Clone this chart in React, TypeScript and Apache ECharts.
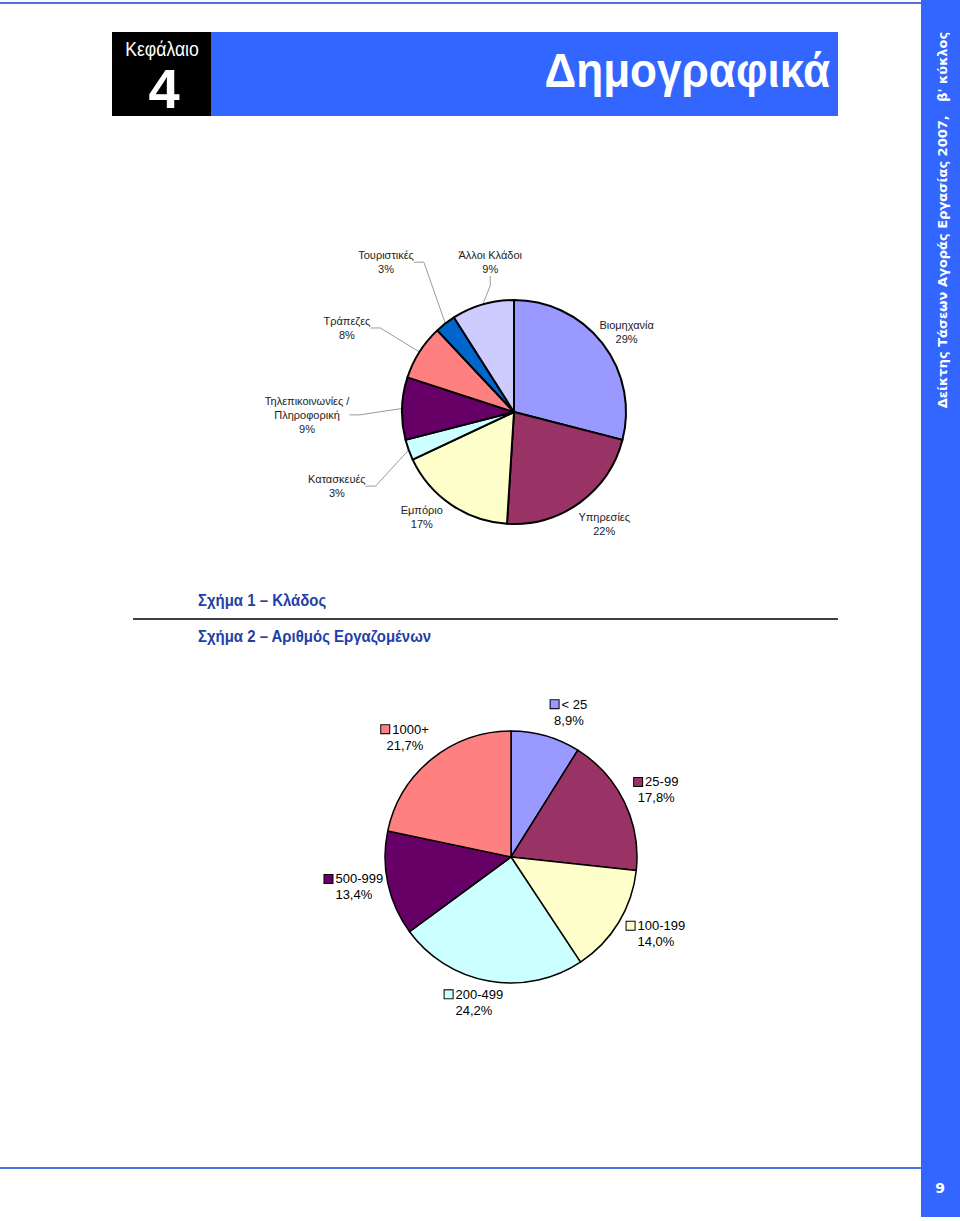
import React, { useEffect, useRef } from 'react';
import * as echarts from 'echarts';

// Σχήμα 1 – Κλάδος
const sectorNames = ['Βιομηχανία', 'Υπηρεσίες', 'Εμπόριο', 'Κατασκευές', 'Τηλεπικοινωνίες /\nΠληροφορική', 'Τράπεζες', 'Τουριστικές', 'Άλλοι Κλάδοι'];
const sectorValues = [29, 22, 17, 3, 9, 8, 3, 9];
const sectorColors = ['#9999ff', '#993366', '#ffffcc', '#ccffff', '#660066', '#ff8080', '#0066cc', '#ccccff'];
const sectorLeader = [false, false, false, true, true, true, true, true];

// Σχήμα 2 – Αριθμός Εργαζομένων
const sizeNames = ['< 25', '25-99', '100-199', '200-499', '500-999', '1000+'];
const sizeValues = [8.9, 17.8, 14.0, 24.2, 13.4, 21.7];
const sizeColors = ['#9999ff', '#993366', '#ffffcc', '#ccffff', '#660066', '#ff8080'];

// label placement (angle from 12 o'clock clockwise in degrees, distance from centre in px)
const sectorLabelPolar = [[54.7, 138], [141.2, 144], [221.2, 140], [247.3, 192], [269.2, 207], [296.7, 187], [319.5, 197], [351, 152]];
const sizeLabelPolar = [[21.8, 156], [65.2, 160], [117.9, 164], [194.3, 150], [259.2, 160], [318.5, 160]];

const PIE1 = { cx: 514, cy: 412, r: 112 };
const PIE2 = { cx: 511, cy: 857, r: 126 };

function polar(p: { cx: number; cy: number }, a: number, d: number) {
  const rad = (a * Math.PI) / 180;
  return { x: p.cx + d * Math.sin(rad), y: p.cy - d * Math.cos(rad) };
}

export default function App() {
  const ref = useRef<HTMLDivElement>(null);
  useEffect(() => {
    if (!ref.current) return;
    const chart = echarts.init(ref.current, null, { renderer: 'svg' });
    const sqRich: Record<string, any> = {};
    sizeColors.forEach((c, i) => {
      sqRich['sq' + i] = { width: 8, height: 8, backgroundColor: c, borderColor: '#000', borderWidth: 1 };
    });
    sqRich.t = { fontSize: 13, fontFamily: 'Liberation Sans, Arial', color: '#000', lineHeight: 16, padding: [0, 0, 0, 3] };
    sqRich.p = { fontSize: 13, fontFamily: 'Liberation Sans, Arial', color: '#000', lineHeight: 16 };

    const subFont = 'bold 17px "Liberation Sans", Arial';
    const option: any = {
      animation: false,
      backgroundColor: '#ffffff',
      graphic: [
        { type: 'rect', shape: { x: 0, y: 2, width: 921, height: 2 }, style: { fill: '#4a72e0' } },
        { type: 'rect', shape: { x: 0, y: 1167, width: 921, height: 2 }, style: { fill: '#4a72e0' } },
        { type: 'rect', shape: { x: 921, y: 0, width: 39, height: 1217 }, style: { fill: '#3366ff' } },
        { type: 'rect', shape: { x: 112, y: 32, width: 99, height: 84 }, style: { fill: '#000000' } },
        { type: 'rect', shape: { x: 211, y: 32, width: 627, height: 84 }, style: { fill: '#3366ff' } },
        {
          type: 'text', x: 162, y: 49, scaleX: 0.88,
          style: { text: 'Κεφάλαιο', fill: '#fff', font: '20px "Liberation Sans", Arial', align: 'center', verticalAlign: 'middle' },
        },
        {
          type: 'text', x: 164, y: 88,
          style: { text: '4', fill: '#fff', font: 'bold 56px "Liberation Sans", Arial', align: 'center', verticalAlign: 'middle' },
        },
        {
          type: 'text', x: 830, y: 70, scaleX: 0.9,
          style: { text: 'Δημογραφικά', fill: '#fff', font: 'bold 49px "Liberation Sans", Arial', align: 'right', verticalAlign: 'middle' },
        },
        {
          type: 'text', x: 942, y: 220, rotation: Math.PI / 2,
          style: { text: "Δείκτης Τάσεων Αγοράς Εργασίας 2007,   β' κύκλος", fill: '#fff', font: 'bold 13px "DejaVu Sans", Verdana', align: 'center', verticalAlign: 'middle' },
        },
        {
          type: 'text', x: 940, y: 1188,
          style: { text: '9', fill: '#fff', font: 'bold 14px "DejaVu Sans", Verdana', align: 'center', verticalAlign: 'middle' },
        },
        {
          type: 'text', x: 198, y: 600, scaleX: 0.88,
          style: { text: 'Σχήμα 1 – Κλάδος', fill: '#1f3fa8', font: subFont, align: 'left', verticalAlign: 'middle' },
        },
        { type: 'line', shape: { x1: 133, y1: 619, x2: 838, y2: 619 }, style: { stroke: '#000', lineWidth: 1.5 } },
        {
          type: 'text', x: 198, y: 636, scaleX: 0.88,
          style: { text: 'Σχήμα 2 – Αριθμός Εργαζομένων', fill: '#1f3fa8', font: subFont, align: 'left', verticalAlign: 'middle' },
        },
      ],
      series: [
        {
          type: 'pie',
          center: [PIE1.cx, PIE1.cy],
          radius: PIE1.r,
          startAngle: 90,
          clockwise: true,
          avoidLabelOverlap: false,
          itemStyle: { borderColor: '#000', borderWidth: 2 },
          emphasis: { disabled: true },
          label: {
            show: true,
            position: 'outside',
            formatter: (p: any) => `${p.name}\n${p.value}%`,
            fontSize: 11,
            fontFamily: 'Liberation Sans, Arial',
            color: '#222',
            lineHeight: 14,
          },
          labelLine: { show: false, lineStyle: { color: '#9a9a9a', width: 1 } },
          labelLayout: (params: any) => {
            const [a, d] = sectorLabelPolar[params.dataIndex];
            const pt = polar(PIE1, a, d);
            return { x: pt.x, y: pt.y, align: 'center', verticalAlign: 'middle' };
          },
          data: sectorNames.map((n, i) => ({
            name: n,
            value: sectorValues[i],
            itemStyle: { color: sectorColors[i] },
            labelLine: { show: sectorLeader[i], length: 10, length2: 10 },
          })),
        },
        {
          type: 'pie',
          center: [PIE2.cx, PIE2.cy],
          radius: PIE2.r,
          startAngle: 90,
          clockwise: true,
          avoidLabelOverlap: false,
          itemStyle: { borderColor: '#000', borderWidth: 1.5 },
          emphasis: { disabled: true },
          label: {
            show: true,
            position: 'outside',
            formatter: (p: any) => `{sq${p.dataIndex}|}{t|${p.name}}\n{p|${p.value.toFixed(1).replace('.', ',')}%}`,
            rich: sqRich,
          },
          labelLine: { show: false },
          labelLayout: (params: any) => {
            const [a, d] = sizeLabelPolar[params.dataIndex];
            const pt = polar(PIE2, a, d);
            return { x: pt.x, y: pt.y, align: 'center', verticalAlign: 'middle' };
          },
          data: sizeNames.map((n, i) => ({ name: n, value: sizeValues[i], itemStyle: { color: sizeColors[i] } })),
        },
      ],
    };
    chart.setOption(option);
    return () => chart.dispose();
  }, []);
  return <div ref={ref} style={{ position: 'absolute', left: 0, top: 0, width: 960, height: 1221 }} />;
}
